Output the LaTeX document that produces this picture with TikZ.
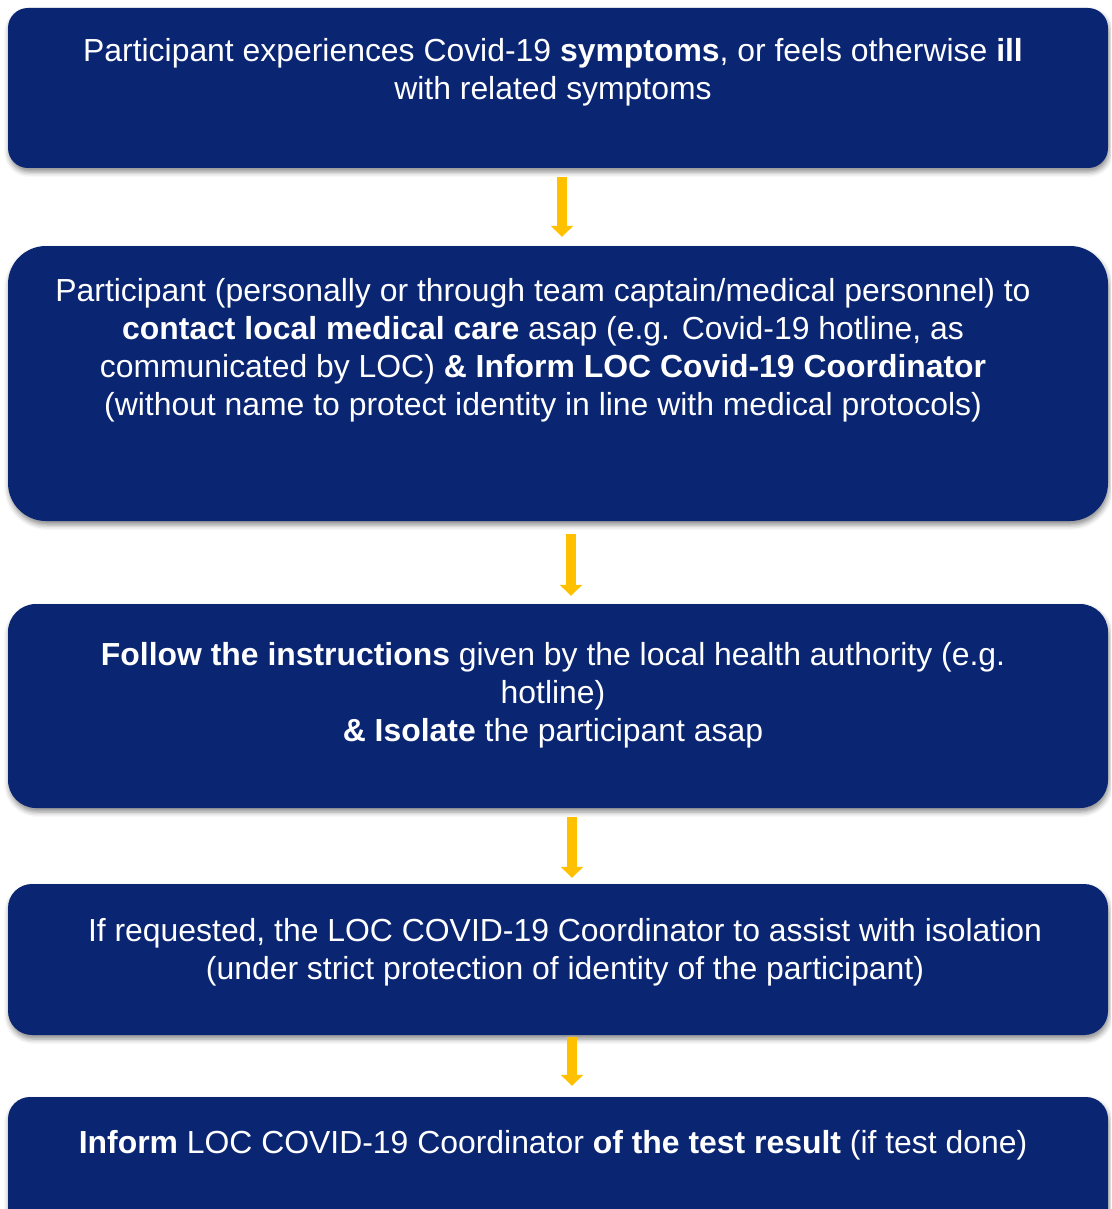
\documentclass[tikz,border=0pt]{standalone}
\usepackage{fontspec}
\setmainfont{Liberation Sans}
\usetikzlibrary{arrows.meta,shadows.blur}
\definecolor{navy}{RGB}{10,37,114}
\definecolor{amber}{RGB}{255,192,0}
\tikzset{
  box/.style={fill=navy, draw=none, inner sep=0pt, minimum width=1100pt,
    blur shadow={shadow xshift=1pt, shadow yshift=-4pt, shadow blur radius=5pt, shadow opacity=45}},
  txt/.style={text=white, font=\fontsize{31.9}{38}\selectfont, align=center, inner sep=0pt, anchor=north},
  flow/.style={draw=amber, line width=10pt, -{Triangle[width=22pt,length=11pt]}}
}
\begin{document}
\begin{tikzpicture}[x=1pt,y=-1pt]
\useasboundingbox (0,0) rectangle (1111,1209);
\clip (0,0) rectangle (1111,1209);
\node[box, minimum height=160pt, rounded corners=20pt] (b1) at (558,88) {};
\node[box, minimum height=275pt, rounded corners=38pt] (b2) at (558,383.5) {};
\node[box, minimum height=204pt, rounded corners=28pt] (b3) at (558,706) {};
\node[box, minimum height=151pt, rounded corners=24pt] (b4) at (558,959.5) {};
\node[box, minimum height=160pt, rounded corners=22pt] (b5) at (558,1177) {};
\node[txt] (t1) at (553,38) {Participant experiences Covid-19 \textbf{symptoms}, or feels otherwise \textbf{ill}\\with related symptoms};
\node[txt] (t2) at (543,278) {Participant (personally or through team captain/medical personnel) to\\\textbf{contact local medical care} asap (e.g. Covid-19 hotline, as\\communicated by LOC) \textbf{\& Inform LOC Covid-19 Coordinator}\\(without name to protect identity in line with medical protocols)};
\node[txt] (t3) at (553,642) {\textbf{Follow the instructions} given by the local health authority (e.g.\\hotline)\\\textbf{\& Isolate} the participant asap};
\node[txt] (t4) at (565,918) {If requested, the LOC COVID-19 Coordinator to assist with isolation\\(under strict protection of identity of the participant)};
\node[txt] (t5) at (553,1130) {\textbf{Inform} LOC COVID-19 Coordinator \textbf{of the test result} (if test done)};
\draw[flow, shorten <=9pt, shorten >=9pt] ([xshift=4pt]b1.south) -- ([xshift=4pt]b2.north);
\draw[flow, shorten <=13pt, shorten >=8pt] ([xshift=13pt]b2.south) -- ([xshift=13pt]b3.north);
\draw[flow, shorten <=9pt, shorten >=6pt] ([xshift=14pt]b3.south) -- ([xshift=14pt]b4.north);
\draw[flow, shorten <=2pt, shorten >=11pt] ([xshift=14pt]b4.south) -- ([xshift=14pt]b5.north);
\end{tikzpicture}
\end{document}
